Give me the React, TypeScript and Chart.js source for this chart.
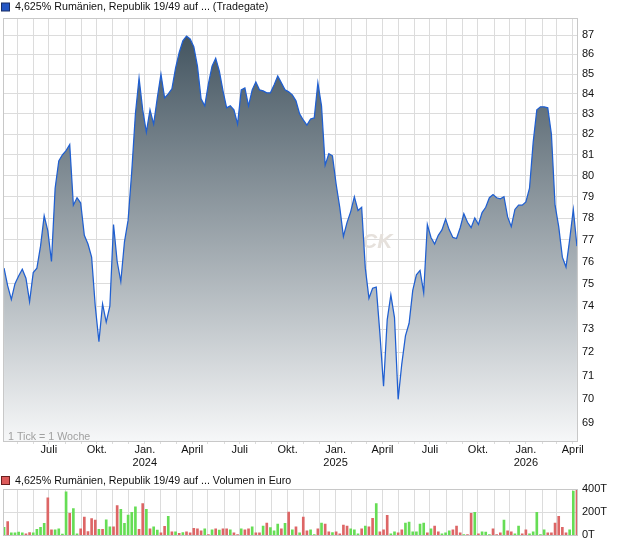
import React, { useEffect, useRef } from 'react';
import { Chart, registerables } from 'chart.js';

Chart.register(...registerables);

// ---------- data ----------
const startDate = [2023, 3, 6]; // first weekly point (Y, M0, D)
const weekDays = 7;

const priceValues = [
  75.7, 74.9, 74.3, 75.0, 75.35, 75.65, 75.25, 74.2, 75.5, 75.7,
  76.7, 78.1, 77.4, 76.0, 79.4, 80.7, 81.0, 81.2, 81.5, 78.6,
  78.95, 78.7, 77.2, 76.8, 76.2, 74.0, 72.45, 74.1, 73.3, 74.0,
  77.7, 76.0, 75.1, 76.9, 77.9, 80.2, 83.0, 84.8, 83.2, 82.1,
  83.2, 82.5, 83.8, 85.0, 83.8, 84.0, 84.25, 85.3, 86.1, 86.7,
  86.95, 86.8, 86.4, 85.4, 83.75, 83.4, 84.5, 85.4, 85.8, 85.15,
  84.15, 83.3, 83.4, 83.2, 82.5, 84.2, 84.3, 83.4, 84.2, 84.6,
  84.2, 84.15, 84.05, 84.05, 84.45, 84.9, 84.55, 84.2, 84.1, 83.95,
  83.65, 83.0, 82.7, 82.45, 82.75, 82.8, 84.55, 83.4, 80.5, 81.05,
  80.95, 79.6, 78.5, 77.15, 77.8, 78.3, 79.0, 78.35, 78.5, 75.7,
  74.35, 74.8, 74.85, 72.8, 70.55, 73.4, 74.5, 73.5, 70.0, 71.5,
  72.7, 73.25, 74.7, 75.4, 75.6, 74.6, 77.7, 77.1, 76.8, 77.2,
  77.45, 77.95, 77.45, 77.1, 77.05, 77.55, 78.2, 77.8, 77.55, 78.0,
  77.7, 78.25, 78.5, 78.95, 79.1, 78.95, 78.9, 79.0, 78.05, 77.6,
  78.4, 78.6, 78.6, 78.75, 79.4, 81.6, 83.2, 83.35, 83.35, 83.3,
  82.0, 78.6, 77.6, 76.2, 75.75, 77.0, 78.4, 76.7,
];

// volume in thousands (T)
const volumeValues = [
  70, 120, 22, 22, 28, 22, 14, 25, 22, 53,
  70, 103, 324, 48, 48, 56, 11, 375, 190,
  232, 14, 56, 157, 34, 145, 131, 53, 53, 134,
  73, 73, 257, 224, 103, 176, 199, 246, 53, 274,
  224, 56, 73, 45, 22, 78, 165, 31, 31, 17,
  25, 31, 22, 62, 56, 39, 56, 8, 48, 56,
  45, 56, 56, 48, 22, 8, 56, 48, 56, 73,
  22, 22, 81, 106, 67, 39, 98, 56, 103, 201,
  48, 73, 22, 157, 39, 48, 8, 56, 106, 98,
  31, 25, 31, 14, 90, 81, 56, 48, 14, 56,
  81, 73, 148, 274, 31, 48, 173, 14, 31, 22,
  48, 106, 115, 31, 31, 98, 106, 22, 56, 81,
  31, 14, 22, 39, 48, 81, 22, 6, 6,
  190, 199, 14, 31, 28, 8, 56, 8, 22, 131,
  39, 31, 14, 81, 14, 48, 14, 31, 199, 8,
  48, 22, 22, 106, 165, 70, 22, 48, 383, 392,
];

// u = up week (green), d = down week (red)
const volumeDirection = [
  'uduuuudduu', 'uudduuuud', 'uudddddudu', 'udduuuuudd',
  'uduuddudud', 'udddddudud', 'udduddudd' + 'u', 'dduduuudud',
  'ududduudud', 'dudddduuud', 'udduddduud', 'duuuuuudud',
  'duuudddud', 'duduuudddu', 'dduudduuuu', 'udddddduud',
].join('').split('');

const priceTicks = [69, 70, 71, 72, 73, 74, 75, 76, 77, 78, 79, 80, 81, 82, 83, 84, 85, 86, 87];
const volumeTicks = [0, 200, 400];
const quarterLabels: Record<number, string> = { 0: 'Jan.', 3: 'April', 6: 'Juli', 9: 'Okt.' };

const priceLegend = '4,625% Rumänien, Republik 19/49 auf ... (Tradegate)';
const volumeLegend = '4,625% Rumänien, Republik 19/49 auf ... Volumen in Euro';
const tickNote = '1 Tick = 1 Woche';
const watermark = 'CK';

// ---------- helpers ----------
const DAY = 86400000;
const start = Date.UTC(startDate[0], startDate[1], startDate[2]);
const xMin = -2;
const xMax = (priceValues.length - 1) * weekDays + 2;

const months: { value: number; m: number; y: number }[] = [];
for (let y = 2023; y <= 2026; y++) {
  for (let m = 0; m < 12; m++) {
    const v = (Date.UTC(y, m, 1) - start) / DAY;
    if (v > xMin && v < xMax) months.push({ value: v, m, y });
  }
}

const FONT = '"Liberation Sans", Arial, Helvetica, sans-serif';
const GRID = '#dcdcdc';
const FRAME = '#c8c8c8';
const TEXT = '#111111';

const monthLabel = (idx: number) => {
  const mo = months[idx];
  if (!mo) return '';
  const l = quarterLabels[mo.m];
  if (!l) return '';
  return mo.m === 0 ? [l, String(mo.y)] : l;
};

const makeLegendPlugin = (text: string, fill: string, stroke: string, cy: number) => ({
  id: 'customLegend',
  afterDraw(chart: any) {
    const c = chart.ctx;
    c.save();
    c.fillStyle = fill;
    c.fillRect(1.5, cy - 4.5, 8, 8);
    c.strokeStyle = stroke;
    c.lineWidth = 1;
    c.strokeRect(1.5, cy - 4.5, 8, 8);
    c.fillStyle = TEXT;
    c.font = `10.7px ${FONT}`;
    c.textBaseline = 'middle';
    c.textAlign = 'left';
    c.fillText(text, 15, cy);
    c.restore();
  },
});

const framePlugin = {
  id: 'frame',
  afterDatasetsDraw(chart: any) {
    const { ctx: c, chartArea: a } = chart;
    c.save();
    c.strokeStyle = FRAME;
    c.lineWidth = 1;
    c.strokeRect(Math.round(a.left) + 0.5, Math.round(a.top) + 0.5, Math.round(a.right - a.left) - 1, Math.round(a.bottom - a.top));
    c.restore();
  },
};

const notePlugin = {
  id: 'note',
  beforeDatasetsDraw(chart: any) {
    const c = chart.ctx;
    c.save();
    c.fillStyle = '#e6e1dc';
    c.font = `italic bold 21px ${FONT}`;
    c.textBaseline = 'alphabetic';
    c.fillText(watermark, 362, 248);
    c.restore();
  },
  afterDatasetsDraw(chart: any) {
    const { ctx: c, chartArea: a } = chart;
    c.save();
    c.fillStyle = '#a0a0a0';
    c.font = `10.7px ${FONT}`;
    c.textBaseline = 'alphabetic';
    c.textAlign = 'left';
    c.fillText(tickNote, a.left + 5, a.bottom - 1.5);
    c.restore();
  },
};

export default function App() {
  const priceRef = useRef<HTMLCanvasElement>(null);
  const volRef = useRef<HTMLCanvasElement>(null);

  useEffect(() => {
    const monthTickBuilder = (s: any) => {
      s.ticks = months.map((m) => ({ value: m.value }));
    };

    const priceChart = new Chart(priceRef.current as HTMLCanvasElement, {
      type: 'line',
      data: {
        datasets: [
          {
            data: priceValues.map((v, i) => ({ x: i * weekDays, y: v })),
            borderColor: '#1f5fd1',
            borderWidth: 1.25,
            pointRadius: 0,
            tension: 0,
            fill: 'start',
            backgroundColor: (ctx: any) => {
              const { chart } = ctx;
              const a = chart.chartArea;
              if (!a) return 'rgba(0,0,0,0)';
              const g = chart.ctx.createLinearGradient(0, a.top, 0, a.bottom);
              g.addColorStop(0, '#3c4e5a');
              g.addColorStop(1, '#f6f7f8');
              return g;
            },
          } as any,
        ],
      },
      options: {
        animation: false,
        responsive: false,
        maintainAspectRatio: false,
        layout: { padding: { top: 18, left: 3, right: 0, bottom: 0 } },
        plugins: { legend: { display: false }, tooltip: { enabled: false } },
        scales: {
          x: {
            type: 'linear',
            min: xMin,
            max: xMax,
            afterBuildTicks: monthTickBuilder,
            afterFit: (s: any) => {
              s.height = 33;
            },
            ticks: {
              autoSkip: false,
              maxRotation: 0,
              minRotation: 0,
              padding: 0,
              color: TEXT,
              font: { family: FONT, size: 11, lineHeight: 1.15 },
              callback: (_v: any, idx: number) => monthLabel(idx),
            },
            grid: { color: GRID, tickLength: 3, drawTicks: true },
            border: { display: false },
          },
          y: {
            type: 'logarithmic',
            position: 'right',
            min: 68.28,
            max: 87.89,
            afterBuildTicks: (s: any) => {
              s.ticks = priceTicks.map((v) => ({ value: v }));
            },
            afterFit: (s: any) => {
              s.width = 42;
            },
            ticks: {
              padding: 4,
              color: TEXT,
              font: { family: FONT, size: 11 },
              callback: (v: any) => String(v),
            },
            grid: { color: GRID, drawTicks: false },
            border: { display: false },
          },
        },
      } as any,
      plugins: [notePlugin, framePlugin, makeLegendPlugin(priceLegend, '#2456c4', '#1a2f66', 7.5)],
    });

    const volChart = new Chart(volRef.current as HTMLCanvasElement, {
      type: 'bar',
      data: {
        datasets: [
          {
            data: volumeValues.map((v, i) => ({ x: i * weekDays, y: v })),
            backgroundColor: volumeDirection.map((d) => (d === 'u' ? '#66dd55' : '#dd6666')),
            barThickness: 2,
            borderWidth: 0,
          } as any,
        ],
      },
      options: {
        animation: false,
        responsive: false,
        maintainAspectRatio: false,
        layout: { padding: { top: 19, left: 3, right: 0, bottom: 9 } },
        plugins: { legend: { display: false }, tooltip: { enabled: false } },
        scales: {
          x: {
            type: 'linear',
            offset: false,
            min: xMin,
            max: xMax,
            afterBuildTicks: monthTickBuilder,
            afterFit: (s: any) => {
              s.height = 0;
            },
            ticks: { display: false },
            grid: { color: GRID, drawTicks: false, offset: false },
            border: { display: false },
          },
          y: {
            position: 'right',
            min: 0,
            max: 400,
            afterBuildTicks: (s: any) => {
              s.ticks = volumeTicks.map((v) => ({ value: v }));
            },
            afterFit: (s: any) => {
              s.width = 42;
            },
            ticks: {
              padding: 4,
              color: TEXT,
              font: { family: FONT, size: 11 },
              callback: (v: any) => `${v}T`,
            },
            grid: { color: GRID, drawTicks: false },
            border: { display: false },
          },
        },
      } as any,
      plugins: [framePlugin, makeLegendPlugin(volumeLegend, '#dd5a5a', '#6a2020', 11)],
    });

    return () => {
      priceChart.destroy();
      volChart.destroy();
    };
  }, []);

  return (
    <div style={{ position: 'fixed', left: 0, top: 0, width: 620, height: 546, background: '#ffffff', overflow: 'hidden' }}>
      <canvas ref={priceRef} width={620} height={474} style={{ position: 'absolute', left: 0, top: 0, display: 'block' }} />
      <canvas ref={volRef} width={620} height={76} style={{ position: 'absolute', left: 0, top: 470, display: 'block' }} />
    </div>
  );
}
